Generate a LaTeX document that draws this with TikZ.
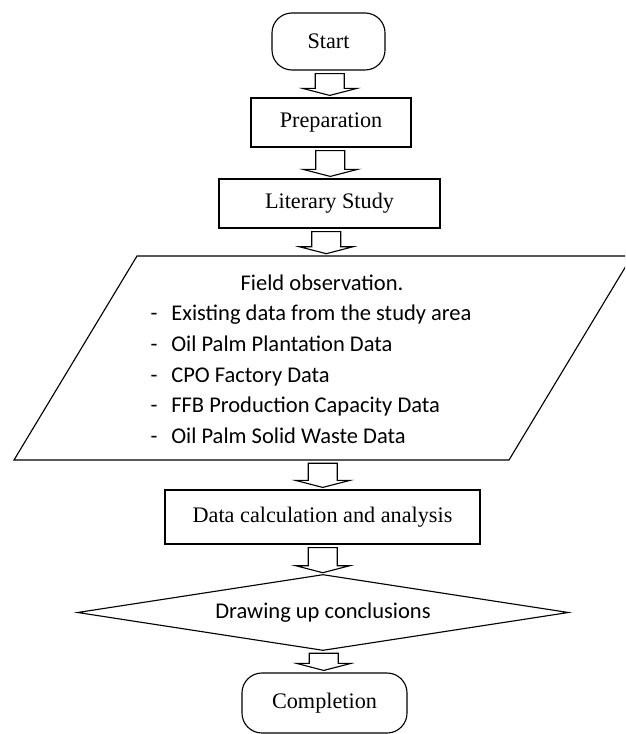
\documentclass[tikz,border=0pt]{standalone}
\usepackage{fontspec}
\setmainfont{Liberation Serif}
\newfontfamily\calibri{Carlito}
\usetikzlibrary{calc}

\newcommand\serifsize{\fontsize{15.8}{19}\selectfont}
\newcommand\sanssize{\calibri\fontsize{16}{19}\selectfont}

\newcommand\blockarrow[2]{%
  \coordinate (arrmid) at ($(#1.south)!0.5!(#2.north)$);
  \coordinate (arrtop) at ($(arrmid |- #1.south)+(0,3)$);
  \coordinate (arrtip) at ($(arrmid |- #2.north)+(0,-2)$);
  \coordinate (arrsh) at ($(arrtip)+(0,-7)$);
  \draw[boxline] (arrtip) -- ($(arrsh)+(-27,0)$) -- ($(arrsh)+(-14.5,0)$)
    -- ($(arrsh |- arrtop)+(-14.5,0)$) -- ($(arrsh |- arrtop)+(14.5,0)$)
    -- ($(arrsh)+(14.5,0)$) -- ($(arrsh)+(27,0)$) -- cycle;}

\begin{document}
\begin{tikzpicture}[x=0.025cm, y=-0.025cm,
    boxline/.style={draw, line width=0.8pt, line join=miter},
    process/.style={boxline, rectangle, inner sep=0pt, font=\serifsize},
    terminal/.style={process, rounded corners=0.5cm},
    sanslabel/.style={font=\sanssize, inner sep=0pt, text height=11pt, text depth=3pt}]
    \useasboundingbox (0,0) rectangle (625,734);
    \clip (0,0) rectangle (625,734);
    \node[terminal, minimum width=2.825cm, minimum height=1.425cm] (start) at (328.5,41.5) {Start};
    \node[process, minimum width=4cm, minimum height=1.225cm] (prep) at (331,122.5) {Preparation};
    \node[process, minimum width=5.525cm, minimum height=1.225cm] (lit) at (329.5,203.5) {Literary Study};
    \node[inner sep=0pt, minimum width=12.375cm, minimum height=5.1cm] (obs) at (323,358) {};
    \draw[boxline] (14,460) -- (137,256) -- (632,256) -- (509,460) -- cycle;
    \node[sanslabel] (obstitle) at (322,285) {Field observation.};
    \foreach \txt [count=\i] in {Existing data from the study area, Oil Palm Plantation Data,
        CPO Factory Data, FFB Production Capacity Data, Oil Palm Solid Waste Data} {
      \node[sanslabel] (dash\i) at (154,{315+30.75*(\i-1)}) {-};
      \node[sanslabel, anchor=west] (item\i) at (171,{315+30.75*(\i-1)}) {\txt};
    }
    \node[process, minimum width=7.875cm, minimum height=1.35cm] (calc) at (322.5,517) {Data calculation and analysis};
    \node[sanslabel, minimum width=12.25cm, minimum height=1.875cm] (concl) at (323,612.5) {Drawing up conclusions};
    \draw[boxline] (concl.west) -- (concl.north) -- (concl.east) -- (concl.south) -- cycle;
    \node[terminal, minimum width=4.125cm, minimum height=1.5cm] (done) at (324.5,703) {Completion};
    \blockarrow{start}{prep}
    \blockarrow{prep}{lit}
    \blockarrow{lit}{obs}
    \blockarrow{obs}{calc}
    \blockarrow{calc}{concl}
    \blockarrow{concl}{done}
\end{tikzpicture}
\end{document}
